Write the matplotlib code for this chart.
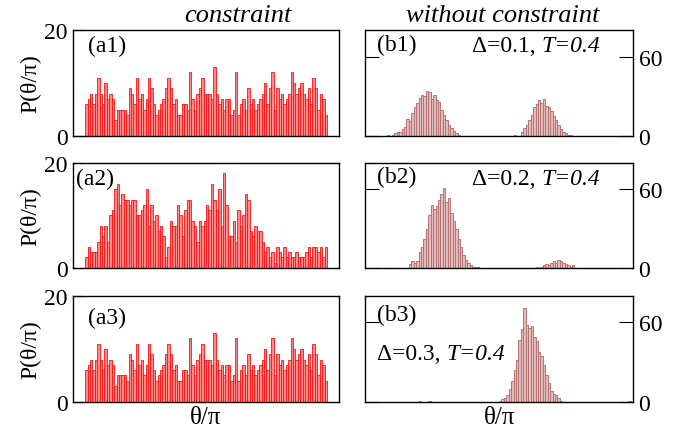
import matplotlib
matplotlib.use("Agg")
import matplotlib.pyplot as plt
import numpy as np

plt.rcParams['font.family'] = 'Liberation Serif'

# histogram counts, 100 bins over theta/pi (with constraint)
a1 = [6, 7, 8, 6, 8, 11, 8, 6, 10, 7,
      8, 7, 3, 5, 5, 5, 5, 4, 9, 8,
      6, 11, 7, 8, 5, 7, 11, 9, 6, 4,
      5, 6, 7, 9, 11, 9, 6, 7, 4, 4,
      6, 6, 5, 12, 7, 5, 8, 9, 11, 8,
      8, 8, 7, 13, 8, 6, 7, 5, 7, 7,
      4, 5, 12, 4, 6, 7, 5, 9, 6, 7,
      5, 6, 7, 8, 10, 6, 9, 12, 5, 9,
      7, 8, 6, 7, 8, 12, 10, 8, 9, 10,
      8, 7, 9, 6, 11, 9, 5, 8, 7, 4]
a2 = [2, 4, 3, 3, 3, 5, 8, 6, 8, 5,
      10, 11, 15, 16, 12, 14, 13, 13, 12, 13,
      13, 10, 10, 11, 12, 15, 8, 12, 9, 10,
      7, 8, 6, 2, 4, 9, 8, 8, 12, 10,
      6, 11, 13, 13, 9, 8, 5, 9, 8, 9,
      12, 11, 16, 13, 11, 15, 8, 18, 12, 6,
      6, 9, 5, 11, 8, 10, 14, 13, 7, 6,
      8, 7, 7, 5, 3, 4, 2, 3, 1, 4,
      3, 2, 4, 2, 3, 2, 2, 3, 2, 2,
      2, 3, 4, 2, 4, 4, 3, 4, 2, 4]
a3 = list(a1)

# histogram counts, 110 bins (without constraint), non-zero bins only
b1 = {9: 1, 11: 1, 12: 2, 13: 3, 14: 3, 15: 5, 16: 7, 17: 13, 18: 11, 19: 17,
      20: 22, 21: 25, 22: 29, 23: 31, 24: 30, 25: 34, 26: 33, 27: 28, 28: 31,
      29: 27, 30: 26, 31: 20, 32: 16, 33: 12, 34: 8, 35: 6, 36: 4, 37: 2, 38: 1,
      61: 1, 64: 3, 65: 6, 66: 8, 67: 12, 68: 16, 69: 22, 70: 24, 71: 27,
      72: 25, 73: 28, 74: 23, 75: 22, 76: 19, 77: 15, 78: 12, 79: 8, 80: 5,
      81: 3, 82: 2, 83: 1, 84: 1}
b2 = {18: 3, 19: 5, 20: 4, 21: 5, 22: 12, 23: 16, 24: 22, 25: 30, 26: 40,
      27: 48, 28: 45, 29: 47, 30: 52, 31: 56, 32: 61, 33: 50, 34: 53, 35: 42,
      36: 36, 37: 30, 38: 22, 39: 16, 40: 10, 41: 6, 42: 4, 43: 2, 44: 1,
      45: 1, 46: 1,
      70: 1, 72: 1, 73: 2, 74: 3, 75: 2, 76: 4, 77: 5, 78: 4, 79: 6, 80: 5,
      81: 4, 82: 3, 83: 2, 84: 1, 85: 2}
b3 = {22: 1, 26: 1,
      55: 1, 56: 2, 57: 3, 58: 5, 59: 10, 60: 16, 61: 24, 62: 32, 63: 47,
      64: 55, 65: 71, 66: 58, 67: 56, 68: 57, 69: 49, 70: 46, 71: 38, 72: 35,
      73: 28, 74: 20, 75: 14, 76: 8, 77: 6, 78: 5, 79: 3, 80: 1,
      108: 1}

left_labels = ["(a1)", "(a2)", "(a3)"]
right_labels = ["(b1)", "(b2)", "(b3)"]
deltas = ["Δ=0.1, ", "Δ=0.2, ", "Δ=0.3, "]
temp = "T=0.4"

fig = plt.figure(figsize=(6.74, 4.31), dpi=100)

rows = [(0.6821, 0.2459), (0.3759, 0.2436), (0.0650, 0.2459)]
fs = 17
pieces = []

for i, (left, right) in enumerate(zip([a1, a2, a3], [b1, b2, b3])):
    bot, h = rows[i]
    axl = fig.add_axes([0.1083, bot, 0.3947, h])
    x = np.arange(len(left))
    axl.bar(x, left, width=1.0, align='edge', color='#ff8a8a',
            edgecolor='#ff1010', linewidth=0.6)
    axl.set_xlim(-5, 105)
    axl.set_ylim(0, 20)
    axl.set_yticks([0, 20])
    axl.set_xticks([])
    axl.tick_params(axis='y', direction='in', length=7, labelsize=fs, pad=4)
    lx, ly = [(0.056, 0.85), (0.01, 0.85), (0.056, 0.80)][i]
    axl.text(lx, ly, left_labels[i], transform=axl.transAxes, fontsize=fs,
             va='center', ha='left')

    axr = fig.add_axes([0.5415, bot, 0.3976, h])
    counts = np.zeros(110)
    for k, v in right.items():
        counts[k] = v
    axr.bar(np.arange(110), counts, width=1.0, align='edge', color='#e2bcbc',
            edgecolor='#b97373', linewidth=0.7)
    axr.set_xlim(0, 110)
    axr.set_ylim(0, 80)
    axr.set_yticks([0, 60])
    axr.set_xticks([])
    axr.yaxis.tick_right()
    axr.tick_params(axis='y', direction='in', length=10, labelsize=fs,
                    left=True, right=True, pad=4)
    axr.text(0.045, [0.86, 0.87, 0.83][i], right_labels[i],
             transform=axr.transAxes, fontsize=fs, va='center', ha='left')
    tx, ty = [(0.40, 0.80), (0.40, 0.80), (0.045, 0.41)][i]
    t1 = axr.text(tx, ty, deltas[i], transform=axr.transAxes, fontsize=fs,
                  va='baseline', ha='left')
    pieces.append((axr, t1, ty))

    for ax in (axl, axr):
        for sp in ax.spines.values():
            sp.set_linewidth(1.0)

    fig.text(0.045, bot + h / 2, "P(θ/π)", rotation=90,
             fontsize=fs, va='center', ha='center')

# italic "T=0.4" placed right after the upright part
fig.canvas.draw()
for axr, t1, ty in pieces:
    bb = t1.get_window_extent()
    x1 = axr.transAxes.inverted().transform((bb.x1, bb.y0))[0]
    axr.text(x1, ty, temp, transform=axr.transAxes, fontsize=fs,
             style='italic', va='baseline', ha='left')

fig.text(0.353, 0.962, "constraint", style='italic', fontsize=19,
         ha='center', va='center')
fig.text(0.746, 0.962, "without constraint", style='italic', fontsize=19,
         ha='center', va='center')
fig.text(0.305, 0.030, "θ/π", fontsize=fs + 1, ha='center', va='center')
fig.text(0.742, 0.030, "θ/π", fontsize=fs + 1, ha='center', va='center')

fig.savefig("out.png", dpi=100)
